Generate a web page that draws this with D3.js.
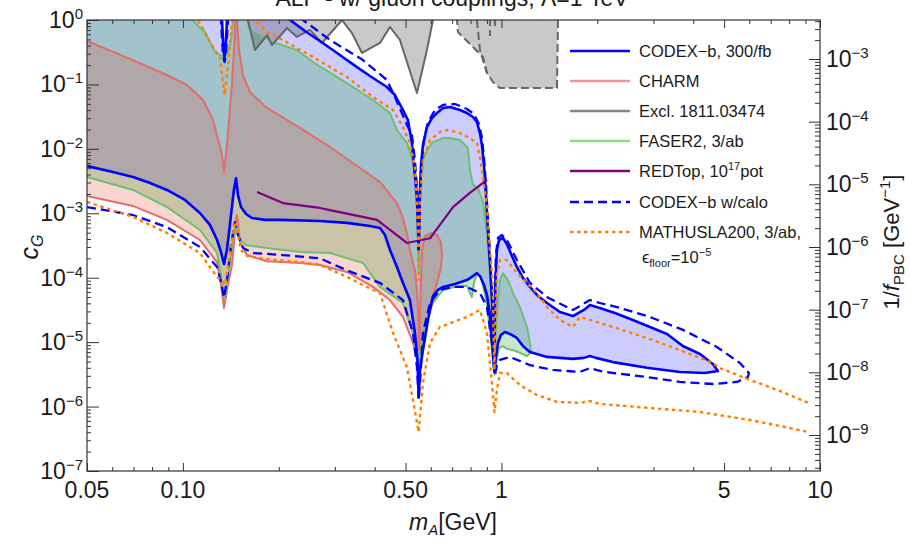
<!DOCTYPE html>
<html><head><meta charset="utf-8">
<script src="https://cdn.jsdelivr.net/npm/d3@7"></script>
<style>
body{margin:0;background:#fff}
text{font-family:"Liberation Sans",Arial,sans-serif;fill:#1a1a1a}
</style></head>
<body><svg id="chart" width="910" height="539"></svg>
<script>
// ---------------- data (m_A [GeV], c_G) ----------------
const codexLower = [[0.05,5.4e-3],[0.059,4.5e-3],[0.0697,3.66e-3],[0.0789,2.95e-3],[0.0891,2.3e-3],[0.1015,1.61e-3],[0.1131,1.01e-3],[0.1216,6.6e-4],[0.128,3.85e-4],[0.1317,2.5e-4],[0.1346,1.63e-4],[0.1375,2.7e-4],[0.1416,9.4e-4],[0.1446,2.3e-3],[0.1468,3.5e-3],[0.1489,1.92e-3],[0.1522,1.25e-3],[0.1578,9.75e-4],[0.1648,8.45e-4],[0.181,7.9e-4],[0.2018,7.9e-4],[0.2694,7.6e-4],[0.3274,7.1e-4],[0.3866,6.35e-4],[0.4156,5.9e-4],[0.4309,4.6e-4],[0.4467,2.7e-4],[0.4699,1.47e-4],[0.4907,8.3e-5],[0.516,4.5e-5],[0.535,1.39e-5],[0.545,5.3e-6],[0.5497,1.41e-6],[0.555,3.7e-6],[0.567,7.55e-6],[0.588,2.2e-5],[0.6095,5.2e-5],[0.632,6.45e-5],[0.6555,7.2e-5],[0.7145,8.0e-5],[0.779,9.2e-5],[0.814,1.06e-4],[0.8375,1.18e-4],[0.856,1.06e-4],[0.8815,7.7e-5],[0.9005,5.4e-5],[0.9205,2.64e-5],[0.9335,1.08e-5],[0.9435,5.3e-6],[0.9505,3.44e-6],[0.9605,5.7e-6],[0.975,9.7e-6],[0.996,1.29e-5],[1.025,1.44e-5],[1.063,1.34e-5],[1.118,1.16e-5],[1.168,8.7e-6],[1.229,7.0e-6],[1.39,5.9e-6],[1.676,5.5e-6],[1.815,5.7e-6],[1.896,6.1e-6],[1.98,5.7e-6],[2.238,4.9e-6],[2.862,4.0e-6],[3.633,3.44e-6],[4.351,3.32e-6],[4.78,3.57e-6]];
const codexUpper = [[4.611,4.58e-6],[4.2,6.55e-6],[3.71,8.7e-6],[3.31,1.34e-5],[2.925,1.72e-5],[2.586,2.21e-5],[2.271,2.83e-5],[2.037,3.39e-5],[1.896,3.77e-5],[1.815,3.16e-5],[1.676,2.54e-5],[1.526,2.94e-5],[1.39,4.05e-5],[1.293,5.4e-5],[1.229,7.2e-5],[1.168,9.9e-5],[1.118,1.47e-4],[1.079,2.17e-4],[1.04,3.34e-4],[1.011,4.13e-4],[0.9825,3.85e-4],[0.968,2.7e-4],[0.958,9.2e-5],[0.9525,2.2e-5],[0.9505,9.0e-6],[0.9435,1.55e-5],[0.9335,4.5e-5],[0.9205,1.58e-4],[0.907,5.5e-4],[0.894,1.92e-3],[0.8815,5.6e-3],[0.8685,1.15e-2],[0.856,0.0176],[0.8375,0.0261],[0.814,0.0312],[0.779,0.036],[0.741,0.0401],[0.6895,0.0446],[0.6555,0.0431],[0.6275,0.036],[0.605,0.0301],[0.5835,0.0218],[0.567,0.0115],[0.559,5.6e-3],[0.555,2.3e-3],[0.553,9.4e-4],[0.5497,2.7e-4],[0.547,5.5e-4],[0.543,1.61e-3],[0.535,3.9e-3],[0.5235,0.0123],[0.5086,0.028],[0.4907,0.0401],[0.463,0.0685],[0.437,0.0912],[0.3866,0.135],[0.352,0.186],[0.311,0.286],[0.275,0.44],[0.2417,0.675],[0.2168,1.0],[0.2018,1.28],[0.1946,1.71],[0.1375,1.71],[0.1375,1.0],[0.136,0.342],[0.1351,0.267],[0.1341,0.342],[0.1327,1.0],[0.1327,1.71],[0.05,1.71]];
const codexCalo = [[0.05,1.25e-3],[0.0697,9.4e-4],[0.0891,6.1e-4],[0.1131,3.0e-4],[0.128,1.47e-4],[0.1317,8.6e-5],[0.1346,4.9e-5],[0.1375,9.2e-5],[0.1416,3.2e-4],[0.1457,7.3e-4],[0.1489,4.6e-4],[0.1544,2.89e-4],[0.166,2.42e-4],[0.206,2.25e-4],[0.2694,2.0e-4],[0.3274,1.3e-4],[0.4156,8.3e-5],[0.4907,4.5e-5],[0.5275,1.39e-5],[0.543,4.1e-6],[0.5497,1.26e-6],[0.557,3.09e-6],[0.567,1.39e-5],[0.5965,4.05e-5],[0.641,6.45e-5],[0.7045,7.2e-5],[0.779,7.2e-5],[0.856,5.8e-5],[0.9005,3.5e-5],[0.94,7.55e-6],[0.954,3.09e-6],[0.968,4.4e-6],[0.989,5.3e-6],[1.063,5.9e-6],[1.229,4.4e-6],[1.45,3.7e-6],[1.763,3.44e-6],[1.896,3.97e-6],[2.037,3.57e-6],[2.238,3.32e-6],[2.862,2.88e-6],[3.633,2.41e-6],[4.611,2.24e-6],[5.485,2.41e-6],[5.94,2.88e-6],[5.98,3.32e-6],[5.605,4.75e-6],[4.746,8.4e-6],[3.714,1.55e-5],[2.925,2.46e-5],[2.304,3.5e-5],[2.037,4.05e-5],[1.896,4.5e-5],[1.763,3.64e-5],[1.676,3.16e-5],[1.39,5.0e-5],[1.229,8.3e-5],[1.118,1.88e-4],[1.04,3.85e-4],[1.0035,4.6e-4],[0.975,4.13e-4],[0.9605,2.25e-4],[0.954,4.5e-5],[0.9525,9.0e-6],[0.9435,2.2e-5],[0.9335,6.45e-5],[0.9205,2.25e-4],[0.907,7.9e-4],[0.894,2.75e-3],[0.8815,7.2e-3],[0.8685,0.0147],[0.85,0.0243],[0.8195,0.0348],[0.779,0.0416],[0.7145,0.0497],[0.6555,0.048],[0.6185,0.0401],[0.588,0.0261],[0.571,0.0137],[0.561,5.6e-3],[0.555,1.92e-3],[0.5497,2.5e-4],[0.547,7.9e-4],[0.545,1.92e-3],[0.535,6.7e-3],[0.5235,0.0164],[0.505,0.0235],[0.463,0.0638],[0.437,0.117],[0.3675,0.239],[0.2895,0.49],[0.2382,1.0],[0.2248,1.28],[0.218,1.71],[0.1385,1.71],[0.1385,1.0],[0.1365,0.286],[0.1351,0.223],[0.1336,0.286],[0.1317,1.0],[0.1317,1.71]];
const faserLower = [[0.05,3.66e-3],[0.0697,2.3e-3],[0.0891,1.25e-3],[0.1131,5.5e-4],[0.128,2.42e-4],[0.1317,1.1e-4],[0.1346,4.9e-5],[0.1375,7.7e-5],[0.1416,2.25e-4],[0.1446,4.6e-4],[0.1479,5.9e-4],[0.1511,4.13e-4],[0.1567,3.22e-4],[0.1837,2.89e-4],[0.233,2.51e-4],[0.2895,2.42e-4],[0.3675,1.69e-4],[0.4156,7.2e-5],[0.4907,4.05e-5],[0.5275,1.39e-5],[0.545,6.3e-6],[0.5497,4.9e-6],[0.555,6.3e-6],[0.567,1.29e-5],[0.5835,2.37e-5],[0.6095,4.05e-5],[0.6555,6.45e-5],[0.7145,7.2e-5],[0.779,7.5e-5],[0.796,5.8e-5],[0.808,5.0e-5],[0.8195,8.3e-5],[0.8375,1.14e-4],[0.8625,1.03e-4],[0.8815,6.45e-5],[0.9005,3.77e-5],[0.9205,1.55e-5],[0.937,6.3e-6],[0.9505,3.09e-6],[0.9645,5.3e-6],[0.9825,8.1e-6],[1.011,8.7e-6],[1.04,7.83e-6],[1.087,7.55e-6],[1.143,6.8e-6],[1.202,6.1e-6],[1.2375,7.0e-6]];
const faserUpper = [[1.229,9.7e-6],[1.202,1.72e-5],[1.143,3.5e-5],[1.087,5.8e-5],[1.048,9.2e-5],[1.011,1.18e-4],[0.989,9.2e-5],[0.975,4.5e-5],[0.9605,1.55e-5],[0.9505,5.3e-6],[0.9435,1.55e-5],[0.9335,4.5e-5],[0.9205,1.47e-4],[0.9005,4.94e-4],[0.875,1.5e-3],[0.844,2.47e-3],[0.814,2.75e-3],[0.796,4.7e-3],[0.785,0.0103],[0.741,0.0137],[0.6895,0.0147],[0.6555,0.0147],[0.6095,0.0128],[0.5835,9.6e-3],[0.567,6.7e-3],[0.559,3.9e-3],[0.555,1.61e-3],[0.5497,1.32e-4],[0.547,7.9e-4],[0.543,2.75e-3],[0.535,4.7e-3],[0.5235,7.2e-3],[0.505,0.0123],[0.4699,0.0196],[0.4467,0.036],[0.395,0.0573],[0.3274,0.105],[0.256,0.223],[0.228,0.342],[0.1917,0.456],[0.1624,0.70],[0.1589,1.0],[0.1578,1.71],[0.1442,1.71],[0.1436,1.0],[0.1426,0.585],[0.1385,0.3075],[0.1351,0.267],[0.1308,0.286],[0.1261,0.319],[0.1173,0.651],[0.1068,1.0],[0.1052,1.71],[0.05,1.71]];
const charmLower = [[0.05,1.85e-3],[0.0697,1.3e-3],[0.0891,7.9e-4],[0.1131,3.85e-4],[0.128,1.75e-4],[0.1317,7.7e-5],[0.1346,3.4e-5],[0.1385,7.7e-5],[0.1426,1.58e-4],[0.1457,5.1e-4],[0.1479,9.4e-4],[0.1511,3.6e-4],[0.1589,2.25e-4],[0.1837,1.8e-4],[0.233,1.69e-4],[0.2694,1.58e-4],[0.3274,1.23e-4],[0.395,7.2e-5],[0.4467,4.5e-5],[0.4907,2.46e-5],[0.5275,9.7e-6],[0.545,4.9e-6],[0.5497,3.97e-6],[0.555,5.3e-6],[0.5755,1.55e-5],[0.5965,3.77e-5],[0.6275,8.3e-5],[0.6456,1.41e-4],[0.6505,2.25e-4],[0.6456,3.6e-4],[0.6275,4.6e-4],[0.6005,4.94e-4],[0.5755,4.44e-4],[0.563,2.7e-4],[0.559,9.2e-5],[0.555,2.2e-5],[0.5515,7.55e-6]];
const charmUpper = [[0.549,2.37e-5],[0.543,6.45e-5],[0.535,1.32e-4],[0.5275,1.69e-4],[0.516,2.7e-4],[0.505,4.94e-4],[0.487,9.4e-4],[0.4699,1.44e-3],[0.4156,3.06e-3],[0.3597,5.05e-3],[0.2895,0.0107],[0.233,0.0211],[0.1837,0.0431],[0.1624,0.0763],[0.1544,0.14],[0.15,0.342],[0.1479,1.0],[0.1473,1.71],[0.1462,1.71],[0.1457,0.628],[0.1426,0.105],[0.1385,0.0176],[0.1365,8.0e-3],[0.1346,4.37e-3],[0.1327,8.0e-3],[0.1308,0.0107],[0.1243,0.028],[0.1157,0.0573],[0.103,0.098],[0.0891,0.14],[0.0697,0.239],[0.05,0.472]];
const exclSolid = [[0.16,1.71],[0.16,1.0],[0.1684,0.342],[0.1837,0.585],[0.1904,0.409],[0.2122,0.751],[0.228,0.545],[0.2505,0.70],[0.2733,0.44],[0.3157,1.0],[0.3394,0.628],[0.365,0.308],[0.4156,0.44],[0.4467,0.779],[0.480,0.49],[0.543,0.0736],[0.5835,0.342],[0.6095,1.0],[0.611,1.71]];
const exclDashed = [[0.725,1.71],[0.725,1.0],[0.730,0.651],[0.814,0.381],[0.875,0.267],[0.9005,0.1504],[0.94,0.109],[0.989,0.088],[1.494,0.088],[1.505,1.0],[1.505,1.71]];
const exclDashedInner = [[0.8375,1.0],[0.856,0.342],[0.9005,0.1504]];
const exclSpikeA = [[0.9205,1.0],[0.9205,0.545]];
const exclSpikeB = [[0.954,1.0],[0.954,0.70]];
const redtop = [[0.1709,2.14e-3],[0.206,1.44e-3],[0.2694,1.21e-3],[0.2895,1.12e-3],[0.4067,7.9e-4],[0.4566,5.1e-4],[0.505,3.46e-4],[0.5965,4.1e-4],[0.641,6.6e-4],[0.7045,1.25e-3],[0.796,2.07e-3],[0.9005,3.3e-3]];
const mathuslaLower = [[0.05,1.5e-3],[0.0697,8.8e-4],[0.0891,4.94e-4],[0.1131,2.42e-4],[0.128,1.03e-4],[0.1327,8.8e-5],[0.1356,7.7e-5],[0.1395,1.88e-4],[0.1436,4.6e-4],[0.1468,8.5e-4],[0.1489,4.6e-4],[0.1522,2.7e-4],[0.1589,2.17e-4],[0.1837,1.95e-4],[0.233,1.75e-4],[0.2694,1.58e-4],[0.3274,1.03e-4],[0.395,6.45e-5],[0.4156,5.8e-5],[0.4566,1.39e-5],[0.505,4.1e-6],[0.5275,1.26e-6],[0.5497,4.03e-7],[0.567,2.32e-6],[0.5965,9.7e-6],[0.641,1.72e-5],[0.779,2.46e-5],[0.856,3.16e-5],[0.9005,1.39e-5],[0.9335,2.32e-6],[0.9505,8.2e-7],[0.968,1.81e-6],[0.989,3.32e-6],[1.04,3.32e-6],[1.143,2.16e-6],[1.293,1.51e-6],[1.494,1.18e-6],[1.763,1.14e-6],[1.896,1.22e-6],[2.037,1.1e-6],[2.925,9.5e-7],[4.197,8.24e-7],[6.025,6.19e-7],[8.04,4.65e-7],[9.16,4.03e-7]];
const mathuslaUpper = [[9.16,1.15e-6],[7.48,1.75e-6],[5.9,2.7e-6],[4.85,3.97e-6],[4.611,4.75e-6],[3.633,7.55e-6],[2.862,1.16e-5],[2.238,1.72e-5],[1.896,2.21e-5],[1.763,2.46e-5],[1.676,1.72e-5],[1.526,2.21e-5],[1.39,3.5e-5],[1.293,5.8e-5],[1.202,8.3e-5],[1.118,1.18e-4],[1.04,1.88e-4],[0.989,1.88e-4],[0.968,1.1e-4],[0.958,2.2e-5],[0.9505,3.7e-6],[0.9435,1.55e-5],[0.94,8.3e-5],[0.9205,2.7e-4],[0.9005,1.25e-3],[0.875,3.66e-3],[0.856,7.47e-3],[0.8375,0.0123],[0.796,0.0147],[0.741,0.0176],[0.6745,0.0196],[0.641,0.0183],[0.5965,0.0137],[0.567,6.7e-3],[0.555,1.61e-3],[0.5497,9.2e-5],[0.547,4.94e-4],[0.543,1.61e-3],[0.535,5.23e-3],[0.516,0.0123],[0.4907,0.0218],[0.4566,0.0401],[0.395,0.0638],[0.3274,0.13],[0.256,0.267],[0.206,0.49],[0.1837,0.651],[0.1684,1.0],[0.166,1.71],[0.1426,1.71],[0.1426,0.931],[0.1395,0.257],[0.1351,0.0685],[0.1308,0.257],[0.1289,0.286],[0.1216,0.456],[0.1131,0.898],[0.1092,1.0],[0.1076,1.71]];

const xTickValues = [0.05, 0.1, 0.5, 1, 5, 10];
const xTickLabels = ["0.05", "0.10", "0.50", "1", "5", "10"];
const yTickExponents = [0, -1, -2, -3, -4, -5, -6, -7];
const yRightExponents = [-3, -4, -5, -6, -7, -8, -9];
const legendNames = ["CODEX\u2212b, 300/fb", "CHARM", "Excl. 1811.03474", "FASER2, 3/ab", "REDTop, 10", "CODEX\u2212b w/calo", "MATHUSLA200, 3/ab,"];

// ---------------- drawing ----------------
const svg = d3.select("#chart");
const L = 87, R = 820, T = 20, B = 471;
const x = d3.scaleLog().domain([0.05, 10]).range([L, R]);
const y = d3.scaleLog().domain([1e-7, 1]).range([B, T]);
const yR = d3.scaleLog().domain([Math.pow(10, -9.574), Math.pow(10, -2.378)]).range([B, T]);
const line = d3.line().x(d => x(d[0])).y(d => y(d[1]));

svg.append("defs").append("clipPath").attr("id", "clip")
  .append("rect").attr("x", L).attr("y", T).attr("width", R - L).attr("height", B - T);
const plot = svg.append("g").attr("clip-path", "url(#clip)");

// fills
plot.append("path").attr("d", line(codexLower.concat(codexUpper)) + "Z").attr("fill", "#0000ff").attr("fill-opacity", 0.2);
plot.append("path").attr("d", line(faserLower.concat(faserUpper)) + "Z").attr("fill", "#43b155").attr("fill-opacity", 0.3);
plot.append("path").attr("d", line(charmLower.concat(charmUpper)) + "Z").attr("fill", "#e14628").attr("fill-opacity", 0.22);
plot.append("path").attr("d", line(exclSolid) + "Z").attr("fill", "#3c3c3c").attr("fill-opacity", 0.28);
plot.append("path").attr("d", line(exclDashed) + "Z").attr("fill", "#3c3c3c").attr("fill-opacity", 0.28);

// outlines
const stroke = (data, color, w, dash) => {
  const p = plot.append("path").attr("d", line(data)).attr("fill", "none")
    .attr("stroke", color).attr("stroke-width", w).attr("stroke-linejoin", "round");
  if (dash) p.attr("stroke-dasharray", dash);
  return p;
};
stroke(charmLower.concat(charmUpper), "#e36d6d", 2);
stroke(faserLower.concat(faserUpper), "#6cc070", 2);
stroke(exclSolid, "#666", 2);
stroke(exclDashed, "#666", 2, "8,4");
stroke(exclDashedInner, "#666", 2, "8,4");
stroke(exclSpikeA, "#666", 2, "6,4");
stroke(exclSpikeB, "#666", 2, "6,4");
stroke(redtop, "#800080", 2.2);
stroke(codexLower.concat(codexUpper), "#0000ff", 2.6);
stroke(codexCalo, "#0000ff", 2.3, "9,5");
stroke(mathuslaLower, "#ff8000", 2.4, "3.5,3.5");
stroke(mathuslaUpper, "#ff8000", 2.4, "3.5,3.5");

// frame
svg.append("rect").attr("x", L).attr("y", T).attr("width", R - L).attr("height", B - T)
  .attr("fill", "none").attr("stroke", "#333").attr("stroke-width", 1.2);

// minor tick generators
const minorX = [];
for (let k = -2; k <= 0; k++) for (let j = 1; j <= 9; j++) {
  const v = j * Math.pow(10, k);
  if (v > 0.05 && v < 10 && !xTickValues.some(t => Math.abs(t - v) < 1e-9)) minorX.push(v);
}
const minorY = [];
for (let k = -7; k < 0; k++) for (let j = 2; j <= 9; j++) minorY.push(j * Math.pow(10, k));
const minorYR = [];
for (let k = -10; k < -2; k++) for (let j = 2; j <= 9; j++) {
  const v = j * Math.pow(10, k);
  if (v > yR.domain()[0] && v < yR.domain()[1]) minorYR.push(v);
}

const axisStyle = g => { g.select(".domain").remove(); g.selectAll("line").attr("stroke", "#333").attr("stroke-width", 1); g.selectAll("text").remove(); };
svg.append("g").attr("transform", `translate(0,${B})`).call(d3.axisBottom(x).tickValues(xTickValues).tickSize(-8).tickFormat("")).call(axisStyle);
svg.append("g").attr("transform", `translate(0,${B})`).call(d3.axisBottom(x).tickValues(minorX).tickSize(-4).tickFormat("")).call(axisStyle);
svg.append("g").attr("transform", `translate(0,${T})`).call(d3.axisTop(x).tickValues(xTickValues).tickSize(-8).tickFormat("")).call(axisStyle);
svg.append("g").attr("transform", `translate(0,${T})`).call(d3.axisTop(x).tickValues(minorX).tickSize(-4).tickFormat("")).call(axisStyle);
svg.append("g").attr("transform", `translate(${L},0)`).call(d3.axisLeft(y).tickValues(yTickExponents.map(e => Math.pow(10, e))).tickSize(-12).tickFormat("")).call(axisStyle);
svg.append("g").attr("transform", `translate(${L},0)`).call(d3.axisLeft(y).tickValues(minorY).tickSize(-4).tickFormat("")).call(axisStyle);
svg.append("g").attr("transform", `translate(${R},0)`).call(d3.axisRight(yR).tickValues(yRightExponents.map(e => Math.pow(10, e))).tickSize(-11).tickFormat("")).call(axisStyle);
svg.append("g").attr("transform", `translate(${R},0)`).call(d3.axisRight(yR).tickValues(minorYR).tickSize(-5).tickFormat("")).call(axisStyle);

// tick labels
const FS = 23, SS = 15;
xTickValues.forEach((v, i) => {
  svg.append("text").attr("x", x(v)).attr("y", B + 27).attr("text-anchor", "middle")
    .attr("font-size", FS).text(xTickLabels[i]);
});
const expLabel = (tx, ty, e, anchor) => {
  const t = svg.append("text").attr("x", tx).attr("y", ty).attr("text-anchor", anchor).attr("font-size", FS);
  t.append("tspan").text("10");
  t.append("tspan").attr("font-size", SS).attr("dy", -9).text(e < 0 ? "\u2212" + (-e) : String(e));
};
yTickExponents.forEach(e => expLabel(L - 4, y(Math.pow(10, e)) + 8, e, "end"));
yRightExponents.forEach(e => expLabel(R + 6, yR(Math.pow(10, e)) + 8, e, "start"));

// axis titles
const xt = svg.append("text").attr("x", 453).attr("y", 530).attr("text-anchor", "middle").attr("font-size", FS);
xt.append("tspan").attr("font-style", "italic").text("m");
xt.append("tspan").attr("font-style", "italic").attr("font-size", SS).attr("dy", 5).text("A");
xt.append("tspan").attr("dy", -5).text("[GeV]");

const yt = svg.append("text").attr("transform", "translate(38,247) rotate(-90)").attr("text-anchor", "middle").attr("font-size", 25);
yt.append("tspan").attr("font-style", "italic").text("c");
yt.append("tspan").attr("font-style", "italic").attr("font-size", 16).attr("dy", 5).text("G");

const rt = svg.append("text").attr("transform", "translate(899,242) rotate(-90)").attr("text-anchor", "middle").attr("font-size", 22);
rt.append("tspan").text("1/");
rt.append("tspan").attr("font-style", "italic").text("f");
rt.append("tspan").attr("font-size", SS).attr("dy", 5).text("PBC");
rt.append("tspan").attr("dy", -5).text(" [GeV");
rt.append("tspan").attr("font-size", SS).attr("dy", -9).text("\u22121");
rt.append("tspan").attr("dy", 9).text("]");

// title (cut at the top, as in the original)
svg.append("text").attr("x", 452).attr("y", 6).attr("text-anchor", "middle").attr("font-size", FS)
  .text("ALP - w/ gluon couplings, \u039b=1 TeV");

// legend
const legY = [51, 81, 111, 141, 171, 202, 232];
const legStyle = [
  {c: "#0000ff", w: 2.6}, {c: "#f49595", w: 2.6}, {c: "#888", w: 2.6}, {c: "#8fd68f", w: 2.6},
  {c: "#800080", w: 2.6}, {c: "#0000ff", w: 2.6, d: "9,5"}, {c: "#ff8000", w: 2.4, d: "3.5,3.5"}];
legendNames.forEach((n, i) => {
  const ln = svg.append("line").attr("x1", 570).attr("x2", 630).attr("y1", legY[i]).attr("y2", legY[i])
    .attr("stroke", legStyle[i].c).attr("stroke-width", legStyle[i].w);
  if (legStyle[i].d) ln.attr("stroke-dasharray", legStyle[i].d);
  const t = svg.append("text").attr("x", 639).attr("y", legY[i] + 6).attr("font-size", 16.5).text(n);
  if (i === 4) {
    t.append("tspan").attr("font-size", 11).attr("dy", -7).text("17");
    t.append("tspan").attr("dy", 7).text("pot");
  }
});
const eps = svg.append("text").attr("x", 642).attr("y", 263).attr("font-size", 16.5);
eps.append("tspan").text("\u03f5");
eps.append("tspan").attr("font-size", 11).attr("dy", 4).text("floor");
eps.append("tspan").attr("dy", -4).text("=10");
eps.append("tspan").attr("font-size", 11).attr("dy", -7).text("\u22125");
</script>
</body></html>
